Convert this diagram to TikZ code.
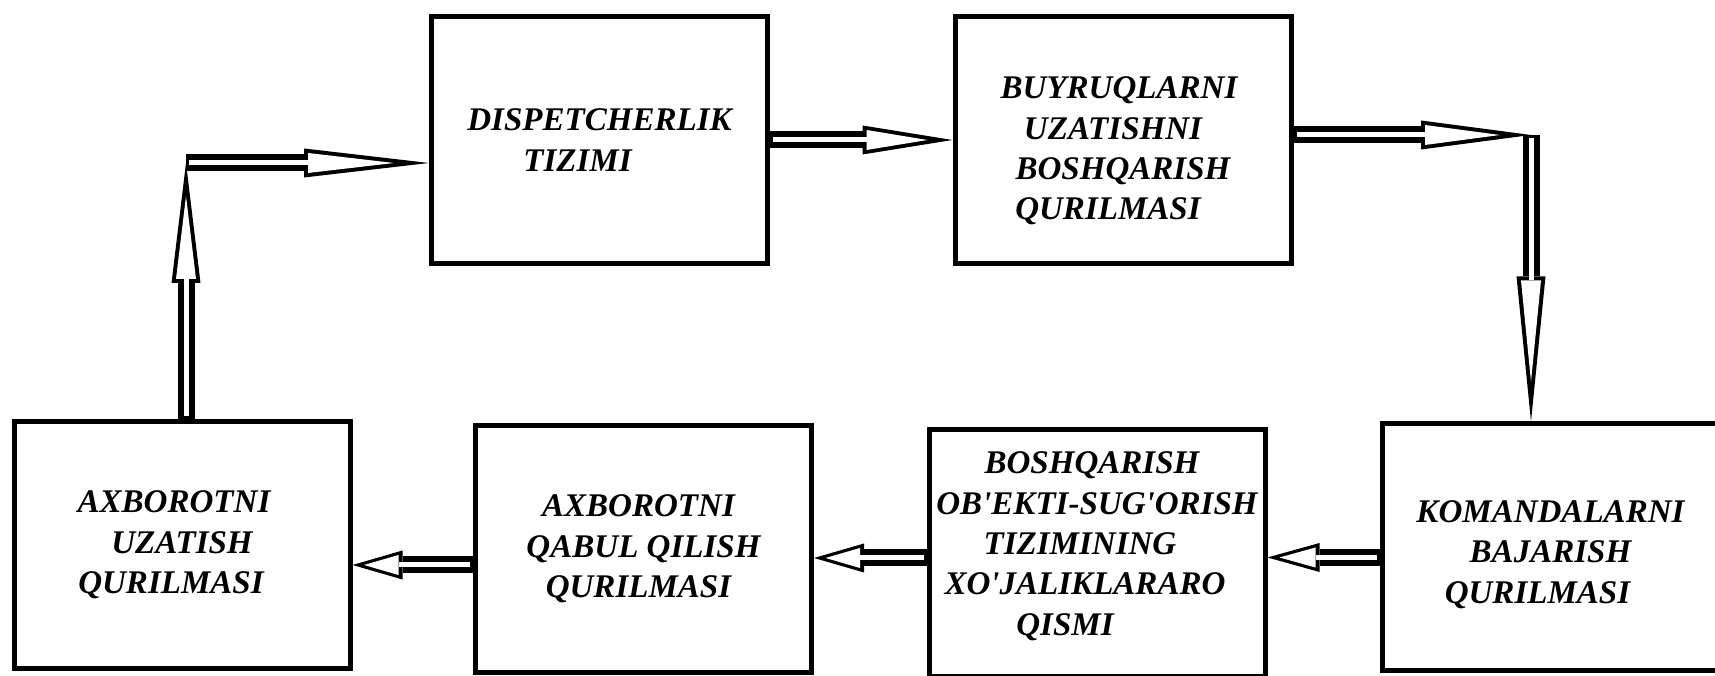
\documentclass[tikz,border=0pt]{standalone}
\usepackage{fontspec}
\setmainfont{Liberation Serif}
\usetikzlibrary{arrows.meta}

\tikzset{
blok/.style = {draw, line width=0.5mm, rectangle, minimum width=33.6mm, minimum height=24.7mm, inner sep=0pt, align=center, font=\bfseries\itshape\fontsize{9.4}{11.5}\selectfont},
flow/.style n args = {3}{line width=1.7mm, -{Triangle[length=#1mm, width=2.9mm, line width=0pt]},
  postaction={draw, white, line width=0.5mm, shorten <=0.3mm, shorten >=#2mm, -{Triangle[length=#3mm, width=2mm, line width=0pt]}}},}

\begin{document}
\begin{tikzpicture}[x=0.1mm, y=-0.1mm]
    \useasboundingbox (0,0) rectangle (1715,676);
    \clip (0,0) rectangle (1715,676);
    % bloklar
    \node[blok] (disp) at (599.5,140) {DISPETCHERLIK\\TIZIMI\hspace*{4.4mm}};
    \node[blok] (buyr) at (1123,140) {\rule{0pt}{4.4mm}BUYRUQLARNI\hspace*{0.8mm}\\\mbox{UZATISHNI\hspace{2mm}}\\BOSHQARISH\\QURILMASI\hspace*{3mm}};
    \node[blok] (kom) at (1550.5,547.5) {\rule{0pt}{3.6mm}KOMANDALARNI\\BAJARISH\hspace*{1.6mm}\\QURILMASI\hspace*{2.6mm}};
    \node[blok] (bosh) at (1097,553) {BOSHQARISH\hspace*{1mm}\\OB\textquotesingle EKTI-SUG\textquotesingle ORISH\\\mbox{TIZIMINING\hspace{3.4mm}}\\\mbox{XO\textquotesingle JALIKLARARO\hspace{2.4mm}}\\QISMI\hspace*{6.4mm}\rule[-1.9mm]{0pt}{0pt}};
    \node[blok] (axbq) at (643.5,549) {AXBOROTNI\hspace*{1mm}\\QABUL QILISH\\QURILMASI\hspace*{1mm}};
    \node[blok] (axbu) at (182,545) {AXBOROTNI\hspace*{1.6mm}\\UZATISH\hspace*{2mm}\\QURILMASI\hspace*{2.2mm}};
    % burchaklar
    \coordinate (c1) at (186,163);
    \coordinate (c2) at (1531,135);
    % oqimlar
    \draw[flow={12}{3.3}{8.3}] (c1 |- axbu.north) -- (c1);
    \draw[flow={12.5}{3.5}{8.6}] (c1) -- (c1 -| disp.west);
    \draw[flow={9}{2.5}{6.1}] (disp.east) -- (buyr.west);
    \draw[flow={11}{3.1}{7.5}] (c2 -| buyr.east) -- (c2);
    \draw[flow={14.5}{4}{10.1}] (c2) -- (c2 |- kom.north);
    \draw[flow={5.2}{1.2}{3.6}] ([yshift=-1mm]kom.west) -- ([yshift=-1mm]kom.west -| bosh.east);
    \draw[flow={5}{1.15}{3.45}] ([yshift=-0.5mm]bosh.west) -- ([yshift=-0.5mm]bosh.west -| axbq.east);
    \draw[flow={5}{1.15}{3.45}] ([yshift=-1.6mm]axbq.west) -- ([yshift=-1.6mm]axbq.west -| axbu.east);
\end{tikzpicture}
\end{document}
